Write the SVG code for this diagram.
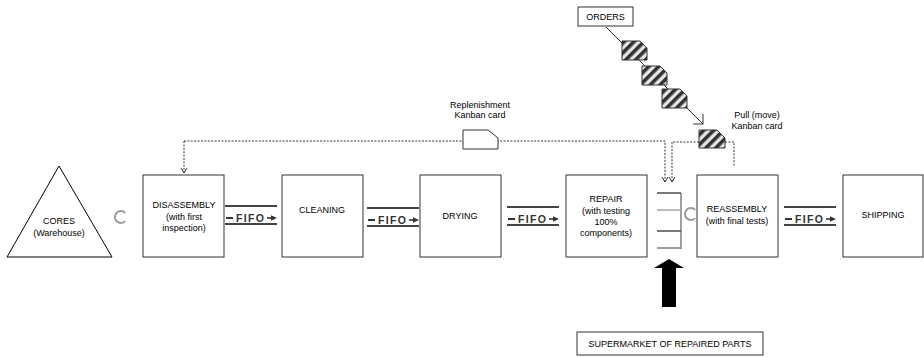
<svg xmlns="http://www.w3.org/2000/svg" width="924" height="357" viewBox="0 0 924 357">
<style>
.box{fill:#fff;stroke:#333;stroke-width:1}
.t{font-family:"Liberation Sans",Arial,sans-serif;font-size:9px;fill:#000;text-anchor:middle}
.dot{fill:none;stroke:#333;stroke-width:1;stroke-dasharray:2,1.4}
.ff{stroke:#444;stroke-width:2.2}
.fft{font-family:"Liberation Sans",Arial,sans-serif;font-size:10.5px;font-weight:bold;fill:#333;letter-spacing:1.3px}
.circ{fill:none;stroke:#999;stroke-width:1.9}
.card{fill:url(#hatch);stroke:#333;stroke-width:1}
</style>
<defs>
<pattern id="hatch" width="7" height="7" patternUnits="userSpaceOnUse" patternTransform="rotate(-45)">
<rect width="7" height="7" fill="#e6e6e6"/><rect width="7" height="3.6" fill="#333"/>
</pattern>
<marker id="arr" markerWidth="8" markerHeight="8" refX="5" refY="3" orient="auto" markerUnits="userSpaceOnUse" viewBox="-1 -1 8 8">
<path d="M0,0 L5,3 L0,6" fill="none" stroke="#333" stroke-width="1"/>
</marker>
<marker id="arrBig" markerWidth="16" markerHeight="16" refX="0" refY="0" orient="auto" markerUnits="userSpaceOnUse" viewBox="-12 -8 14 16">
<path d="M-7,-7 L0,0 L-7,7" fill="none" stroke="#333" stroke-width="1"/>
</marker>
<g id="fifo">
<line class="ff" x1="0" y1="0" x2="52" y2="0"/>
<line class="ff" x1="0" y1="18" x2="52" y2="18"/>
<line x1="1" y1="12" x2="8" y2="12" stroke="#333" stroke-width="2"/>
<text class="fft" x="11" y="15.8">FIFO</text>
<line x1="42" y1="12" x2="48" y2="12" stroke="#333" stroke-width="1.6"/>
<polygon points="46,9.3 52,12 46,14.7" fill="#333"/>
</g>
</defs>

<g id="connectors">
<polyline class="dot" points="184,141 665,141 665,182" marker-end="url(#arr)"/>
<line class="dot" x1="184" y1="141" x2="184" y2="173" marker-end="url(#arr)"/>
<polyline class="dot" points="699,142 672,142 672,182" marker-end="url(#arr)"/>
<polyline class="dot" points="725,142 734,142 734,166"/>
<line x1="606" y1="27" x2="703" y2="124" stroke="#333" stroke-width="1" marker-end="url(#arrBig)"/>
<polygon id="push-arrow" points="669,259 684,268 676,268 676,307 662,307 662,268 654,268" fill="#000"/>
<use href="#fifo" x="225" y="206"/>
<use href="#fifo" x="367" y="208"/>
<use href="#fifo" x="507" y="207"/>
<use href="#fifo" x="784" y="207"/>
</g>

<g id="cores">
<polygon points="59,166 7,257 112,257" fill="#fff" stroke="#000" stroke-width="1"/>
<text class="t" x="59" y="224">CORES</text>
<text class="t" x="59" y="236">(Warehouse)</text>
</g>
<g id="circ1"><path class="circ" d="M125.2,212.8 A6,6 0 1 0 125.2,221.2"/></g>

<g id="disassembly">
<rect class="box" x="143" y="175" width="81" height="82"/>
<text class="t" x="184" y="208">DISASSEMBLY</text>
<text class="t" x="184" y="220">(with first</text>
<text class="t" x="184" y="231">inspection)</text>
</g>
<g id="cleaning">
<rect class="box" x="282" y="175" width="81" height="82"/>
<text class="t" x="322" y="213">CLEANING</text>
</g>
<g id="drying">
<rect class="box" x="420" y="175" width="81" height="82"/>
<text class="t" x="460" y="219">DRYING</text>
</g>
<g id="repair">
<rect class="box" x="566" y="175" width="81" height="82"/>
<text class="t" x="606" y="202">REPAIR</text>
<text class="t" x="606" y="214">(with testing</text>
<text class="t" x="606" y="225">100%</text>
<text class="t" x="606" y="236">components)</text>
</g>
<g id="supermarket-shelves">
<line x1="681" y1="193" x2="681" y2="249" stroke="#888" stroke-width="1.6"/>
<line x1="657" y1="193" x2="681" y2="193" stroke="#555" stroke-width="1.6"/>
<line x1="657" y1="210" x2="681" y2="210" stroke="#aaa" stroke-width="1.6"/>
<line x1="657" y1="231" x2="681" y2="231" stroke="#555" stroke-width="1.6"/>
<line x1="657" y1="248" x2="681" y2="248" stroke="#888" stroke-width="1.6"/>
</g>
<g id="circ2"><path class="circ" d="M695.2,209.8 A6,6 0 1 0 695.2,218.2"/></g>
<g id="reassembly">
<rect class="box" x="697" y="175" width="81" height="82"/>
<text class="t" x="737" y="212">REASSEMBLY</text>
<text class="t" x="737" y="224">(with final tests)</text>
</g>
<g id="shipping">
<rect class="box" x="843" y="175" width="80" height="82"/>
<text class="t" x="883" y="218">SHIPPING</text>
</g>

<g id="orders">
<rect class="box" x="578" y="7" width="55" height="19"/>
<text class="t" x="605.5" y="20">ORDERS</text>
</g>
<g id="card1"><path class="card" d="M622,41 H640 L647,48 V60 H622 Z"/></g>
<g id="card2"><path class="card" d="M642,66 H660 L667,73 V85 H642 Z"/></g>
<g id="card3"><path class="card" d="M662,89 H680 L687,96 V108 H662 Z"/></g>
<g id="pull-card">
<path class="card" d="M699,130 H717 L725,138 V148 H699 Z"/>
<text class="t" x="757" y="118">Pull (move)</text>
<text class="t" x="757" y="129">Kanban card</text>
</g>
<g id="replenishment-card">
<path d="M463,130 H488 L498,138 V149 H463 Z" fill="#fff" stroke="#333" stroke-width="1"/>
<text class="t" x="480" y="108">Replenishment</text>
<text class="t" x="480" y="118">Kanban card</text>
</g>
<g id="supermarket">
<rect class="box" x="577" y="332" width="186" height="23"/>
<text class="t" x="670" y="347">SUPERMARKET OF REPAIRED PARTS</text>
</g>
</svg>
